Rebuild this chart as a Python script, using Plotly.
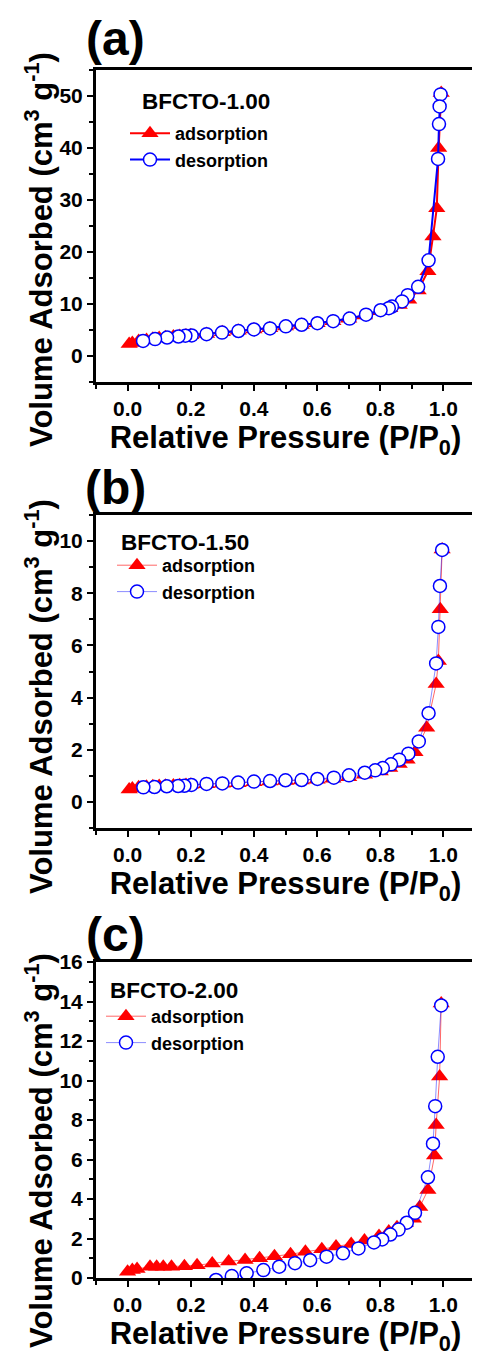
import plotly.graph_objects as go
from plotly.subplots import make_subplots

# ---- data ----
# (a) BFCTO-1.00
a_ads_x = [0.005, 0.015, 0.035, 0.06, 0.08, 0.10, 0.12, 0.145, 0.165, 0.185, 0.20, 0.25, 0.30, 0.35, 0.40,
           0.45, 0.50, 0.55, 0.60, 0.65, 0.70, 0.75, 0.80, 0.83, 0.86, 0.89, 0.92, 0.951, 0.967, 0.979, 0.985, 0.993]
a_ads_y = [2.3, 2.5, 2.9, 3.1, 3.3, 3.45, 3.6, 3.75, 3.85, 3.95, 4.0, 4.25, 4.55, 4.85, 5.1,
           5.35, 5.65, 5.95, 6.3, 6.7, 7.15, 7.8, 8.6, 9.2, 9.8, 10.8, 12.6, 16.3, 23.0, 28.4, 40.0, 50.6]
a_des_x = [0.991, 0.988, 0.986, 0.983, 0.953, 0.92, 0.887, 0.869, 0.837, 0.827, 0.801, 0.755, 0.703, 0.651,
           0.601, 0.551, 0.501, 0.451, 0.40, 0.351, 0.299, 0.25, 0.203, 0.183, 0.161, 0.125, 0.087, 0.049]
a_des_y = [50.3, 48.0, 44.6, 37.9, 18.4, 13.3, 11.7, 10.5, 9.5, 9.2, 8.8, 7.95, 7.2, 6.7,
           6.3, 6.0, 5.7, 5.3, 5.1, 4.8, 4.5, 4.2, 3.95, 3.9, 3.75, 3.55, 3.25, 2.9]

# (b) BFCTO-1.50
b_ads_x = [0.005, 0.015, 0.035, 0.06, 0.08, 0.10, 0.12, 0.145, 0.165, 0.185, 0.20, 0.25, 0.30, 0.35, 0.40,
           0.45, 0.50, 0.55, 0.60, 0.65, 0.70, 0.75, 0.80, 0.83, 0.86, 0.885, 0.91, 0.947, 0.977, 0.984, 0.99, 0.996]
b_ads_y = [0.48, 0.51, 0.56, 0.58, 0.60, 0.61, 0.62, 0.63, 0.64, 0.65, 0.66, 0.68, 0.70, 0.72, 0.75,
           0.78, 0.80, 0.82, 0.85, 0.89, 0.95, 1.04, 1.17, 1.30, 1.45, 1.62, 1.90, 2.84, 4.52, 5.4, 7.39, 9.68]
b_des_x = [0.996, 0.989, 0.984, 0.977, 0.953, 0.922, 0.889, 0.86, 0.834, 0.808, 0.784, 0.751, 0.701, 0.653,
           0.601, 0.551, 0.50, 0.451, 0.40, 0.35, 0.30, 0.25, 0.202, 0.18, 0.16, 0.124, 0.085, 0.05]
b_des_y = [9.66, 8.28, 6.71, 5.31, 3.40, 2.32, 1.85, 1.62, 1.44, 1.30, 1.21, 1.12, 1.02, 0.93,
           0.88, 0.84, 0.83, 0.80, 0.78, 0.74, 0.71, 0.69, 0.65, 0.62, 0.61, 0.60, 0.57, 0.56]

# (c) BFCTO-2.00
c_ads_x = [0.0, 0.015, 0.03, 0.071, 0.092, 0.113, 0.139, 0.18, 0.22, 0.268, 0.32, 0.372, 0.418, 0.465, 0.516,
           0.563, 0.615, 0.66, 0.708, 0.75, 0.796, 0.827, 0.853, 0.879, 0.905, 0.925, 0.951, 0.972, 0.977, 0.988, 0.993]
c_ads_y = [0.32, 0.40, 0.45, 0.57, 0.57, 0.57, 0.57, 0.60, 0.65, 0.74, 0.83, 0.91, 1.0, 1.1, 1.2,
           1.33, 1.45, 1.6, 1.72, 1.9, 2.13, 2.35, 2.57, 2.77, 3.0, 3.6, 4.45, 6.2, 7.75, 10.2, 13.9]
c_des_x = [0.993, 0.982, 0.974, 0.967, 0.951, 0.91, 0.884, 0.858, 0.832, 0.806, 0.78, 0.731, 0.682, 0.63,
           0.578, 0.53, 0.48, 0.43, 0.377, 0.33, 0.28]
c_des_y = [13.8, 11.2, 8.7, 6.8, 5.1, 3.3, 2.8, 2.45, 2.2, 1.95, 1.8, 1.5, 1.25, 1.08,
           0.9, 0.75, 0.57, 0.4, 0.24, 0.1, -0.1]

panels = [
    ("(a)", "BFCTO-1.00", a_ads_x, a_ads_y, a_des_x, a_des_y, [-5, 55], 10, 5),
    ("(b)", "BFCTO-1.50", b_ads_x, b_ads_y, b_des_x, b_des_y, [-1, 11], 2, 1),
    ("(c)", "BFCTO-2.00", c_ads_x, c_ads_y, c_des_x, c_des_y, [0, 16], 2, 1),
]

# page body has an 8px margin; keep the figure inside the 480x1365 window
OFF = 8
W, H = 480 - OFF, 1365 - 2 * OFF
FONT = "Liberation Sans, Arial, sans-serif"

# screen-pixel geometry of each panel
boxes = [(70, 382), (515, 828), (962, 1278)]
box_x = (96, 475)
letter_y = [38, 488, 934]
ytitle_y = [250, 697, 1151]
header_pos = [(140, 101), (119, 542), (108, 990)]
legend_pos = [(130, 115), (117, 547), (106, 998)]


def sx(px):
    return (px - OFF) / W


def sy(px):
    return 1 - (px - OFF) / H


fig = make_subplots(rows=3, cols=1)

for i, (letter, name, ax, ay, dx, dy, yrange, ydt, ymin) in enumerate(panels):
    row = i + 1
    thin = i > 0
    lw = 1 if thin else 2
    red = "rgba(255,0,0,0.6)" if thin else "#ff0000"
    blue = "rgba(0,0,255,0.45)" if thin else "#0000ff"
    leg = "legend" if i == 0 else f"legend{i + 1}"

    fig.add_trace(go.Scatter(
        x=ax, y=ay, mode="lines+markers", name="adsorption", legend=leg,
        line={"color": red, "width": lw},
        marker={"symbol": "triangle-up", "size": 15, "color": "#ff0000", "line": {"width": 0}}
    ), row=row, col=1)
    fig.add_trace(go.Scatter(
        x=dx, y=dy, mode="lines+markers", name="desorption", legend=leg,
        line={"color": blue, "width": lw},
        marker={"symbol": "circle", "size": 13, "color": "white", "line": {"color": "#0000ff", "width": 1.5}}
    ), row=row, col=1)

    top, bot = boxes[i]
    fig.update_xaxes(
        domain=[sx(box_x[0]), sx(box_x[1])], range=[-0.1, 1.1], dtick=0.2, tickformat=".1f", automargin=False,
        showgrid=False, zeroline=False, showline=True, linecolor="black", linewidth=3, mirror=True,
        ticks="outside", ticklen=6, tickwidth=2, tickcolor="black",
        minor={"dtick": 0.1, "ticks": "outside", "ticklen": 4, "tickwidth": 2, "tickcolor": "black"},
        tickfont={"family": FONT, "size": 21, "color": "black", "weight": "bold"},
        title={"text": "Relative Pressure (P/P<sub>0</sub>)", "standoff": 0,
               "font": {"family": FONT, "size": 31, "color": "black", "weight": "bold"}},
        row=row, col=1)
    fig.update_yaxes(
        domain=[sy(bot), sy(top)], range=yrange, dtick=ydt, automargin=False,
        showgrid=False, zeroline=False, showline=True, linecolor="black", linewidth=3, mirror=True,
        ticks="outside", ticklen=6, tickwidth=2, tickcolor="black",
        minor={"dtick": ymin, "ticks": "outside", "ticklen": 4, "tickwidth": 2, "tickcolor": "black"},
        tickfont={"family": FONT, "size": 21, "color": "black", "weight": "bold"},
        row=row, col=1)

    # right-hand frame edge
    xr = "x domain" if i == 0 else f"x{i + 1} domain"
    yr = "y domain" if i == 0 else f"y{i + 1} domain"
    fig.add_shape(type="line", xref=xr, yref=yr, x0=1, x1=1, y0=0, y1=1,
                  line={"color": "black", "width": 2.5})

    fig.add_annotation(text=letter, xref="paper", yref="paper", x=sx(115), y=sy(letter_y[i]),
                       showarrow=False, xanchor="center", yanchor="middle",
                       font={"family": FONT, "size": 48, "color": "black", "weight": "bold"})
    fig.add_annotation(text="Volume Adsorbed (cm<sup>3</sup> g<sup>-1</sup>)", xref="paper", yref="paper",
                       x=sx(39), y=sy(ytitle_y[i]), textangle=-90, showarrow=False,
                       xanchor="center", yanchor="middle",
                       font={"family": FONT, "size": 31, "color": "black", "weight": "bold"})
    hx, hy = header_pos[i]
    fig.add_annotation(text=name, xref="paper", yref="paper", x=sx(hx), y=sy(hy),
                       showarrow=False, xanchor="left", yanchor="middle",
                       font={"family": FONT, "size": 22.5, "color": "black", "weight": "bold"})

    lx, ly = legend_pos[i]
    fig.update_layout({leg: dict(
        x=sx(lx - 5), y=sy(ly), xanchor="left", yanchor="top",
        bgcolor="rgba(0,0,0,0)", itemwidth=40, tracegroupgap=0,
        font={"family": FONT, "size": 18, "color": "black", "weight": "bold"},
    )})

fig.update_layout(
    width=W, height=H, autosize=False,
    margin={"l": 0, "r": 0, "t": 0, "b": 0},
    plot_bgcolor="white", paper_bgcolor="white",
    showlegend=True,
)

fig.write_html("out.html")
